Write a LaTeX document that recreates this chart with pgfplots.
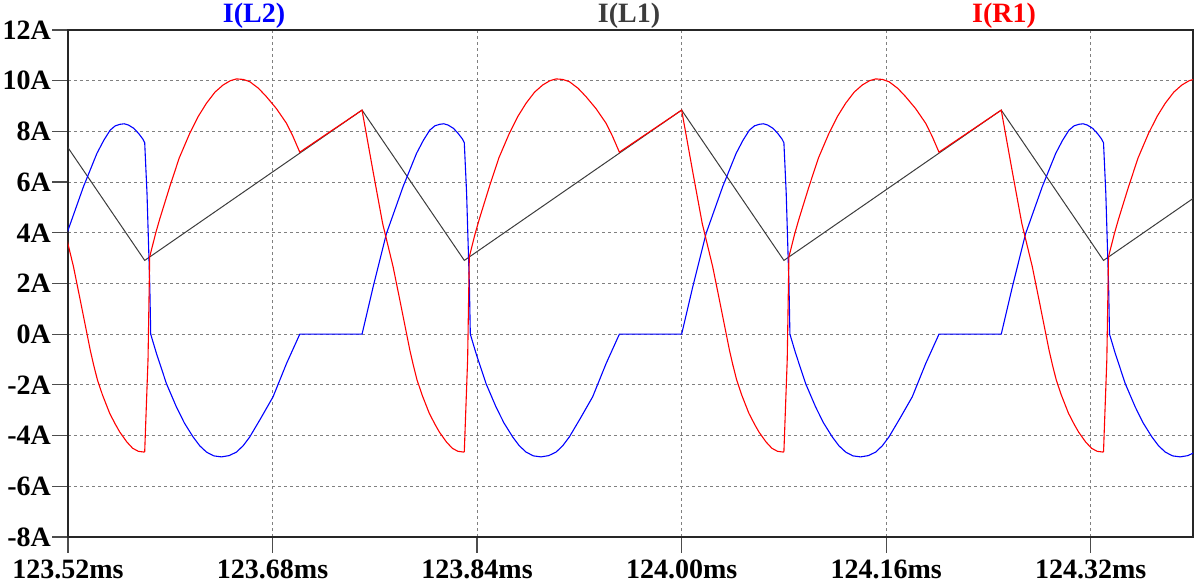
\documentclass[border=0pt]{standalone}
\usepackage{fontspec}
\setmainfont{Liberation Serif}
\usepackage{pgfplots}
\pgfplotsset{compat=1.18}
\definecolor{lgray}{RGB}{60,60,60}
\definecolor{tblue}{RGB}{0,0,255}
\definecolor{tred}{RGB}{255,0,0}
\begin{document}
\begin{tikzpicture}
\begin{axis}[name=ax, scale only axis, width=562.5pt, height=253.5pt,
  xmin=123.52, xmax=124.40, ymin=-8, ymax=12,
  xtick={123.52,123.68,123.84,124.00,124.16,124.32},
  xticklabels={123.52ms,123.68ms,123.84ms,124.00ms,124.16ms,124.32ms},
  ytick={-8,-6,-4,-2,0,2,4,6,8,10,12},
  yticklabels={-8A,-6A,-4A,-2A,0A,2A,4A,6A,8A,10A,12A},
  tick pos=left, tick align=outside, major tick length=8pt,
  grid=major, major grid style={gray, line width=0.5pt, dash pattern=on 1.5pt off 1.5pt},
  axis line style={line width=0.6pt, black!85},
  tick style={line width=0.6pt, black!70},
  ticklabel style={font=\fontsize{14}{16}\selectfont\bfseries},
  yticklabel style={xshift=3pt},
  clip=true,
]
% I(L1)
\addplot[lgray, line width=0.5pt] coordinates {
(123.50,8.84) (123.58,2.91) (123.75,8.84) (123.83,2.91) (124.00,8.84) (124.08,2.91) (124.25,8.84) (124.33,2.91) (124.50,8.84)};
% I(L2)
\addplot[tblue, line width=0.55pt] coordinates {
(123.5000,0.00) (123.5087,1.87) (123.5191,3.97) (123.5321,5.82) (123.5426,7.13) (123.5480,7.65) (123.5530,8.05) (123.5570,8.22) (123.5608,8.28) (123.5640,8.30) (123.5673,8.25) (123.5715,8.12) (123.5752,7.92) (123.5785,7.70) (123.5800,7.55) (123.5818,5.56) (123.5840,1.87) (123.5847,0.00) (123.5892,-0.76) (123.5970,-1.95) (123.6048,-2.87) (123.6110,-3.50) (123.6178,-4.05) (123.6230,-4.40) (123.6283,-4.65) (123.6340,-4.80) (123.6400,-4.84) (123.6460,-4.79) (123.6518,-4.65) (123.6570,-4.40) (123.6622,-4.05) (123.6710,-3.30) (123.6804,-2.47) (123.6909,-1.16) (123.7013,0.00)
(123.7500,0.00) (123.7587,1.87) (123.7691,3.97) (123.7821,5.82) (123.7926,7.13) (123.7980,7.65) (123.8030,8.05) (123.8070,8.22) (123.8108,8.28) (123.8140,8.30) (123.8173,8.25) (123.8215,8.12) (123.8252,7.92) (123.8285,7.70) (123.8300,7.55) (123.8318,5.56) (123.8340,1.87) (123.8347,0.00) (123.8392,-0.76) (123.8470,-1.95) (123.8548,-2.87) (123.8610,-3.50) (123.8678,-4.05) (123.8730,-4.40) (123.8783,-4.65) (123.8840,-4.80) (123.8900,-4.84) (123.8960,-4.79) (123.9018,-4.65) (123.9070,-4.40) (123.9122,-4.05) (123.9210,-3.30) (123.9304,-2.47) (123.9409,-1.16) (123.9513,0.00)
(124.0000,0.00) (124.0087,1.87) (124.0191,3.97) (124.0321,5.82) (124.0426,7.13) (124.0480,7.65) (124.0530,8.05) (124.0570,8.22) (124.0608,8.28) (124.0640,8.30) (124.0673,8.25) (124.0715,8.12) (124.0752,7.92) (124.0785,7.70) (124.0800,7.55) (124.0818,5.56) (124.0840,1.87) (124.0847,0.00) (124.0892,-0.76) (124.0970,-1.95) (124.1048,-2.87) (124.1110,-3.50) (124.1178,-4.05) (124.1230,-4.40) (124.1283,-4.65) (124.1340,-4.80) (124.1400,-4.84) (124.1460,-4.79) (124.1518,-4.65) (124.1570,-4.40) (124.1622,-4.05) (124.1710,-3.30) (124.1804,-2.47) (124.1909,-1.16) (124.2013,0.00)
(124.2500,0.00) (124.2587,1.87) (124.2691,3.97) (124.2821,5.82) (124.2926,7.13) (124.2980,7.65) (124.3030,8.05) (124.3070,8.22) (124.3108,8.28) (124.3140,8.30) (124.3173,8.25) (124.3215,8.12) (124.3252,7.92) (124.3285,7.70) (124.3300,7.55) (124.3318,5.56) (124.3340,1.87) (124.3347,0.00) (124.3392,-0.76) (124.3470,-1.95) (124.3548,-2.87) (124.3610,-3.50) (124.3678,-4.05) (124.3730,-4.40) (124.3783,-4.65) (124.3840,-4.80) (124.3900,-4.84) (124.3960,-4.79) (124.4018,-4.65)};
% I(R1)
\addplot[tred, line width=0.55pt] coordinates {
(123.5000,8.84) (123.5087,6.40) (123.5161,4.37) (123.5243,2.66) (123.5296,1.34) (123.5374,-0.63) (123.5400,-1.20) (123.5430,-1.80) (123.5470,-2.40) (123.5526,-3.12) (123.5570,-3.55) (123.5605,-3.86) (123.5660,-4.25) (123.5706,-4.50) (123.5750,-4.62) (123.5795,-4.65) (123.5800,-4.63) (123.5826,-1.00) (123.5839,3.05) (123.5885,3.97) (123.5918,4.55) (123.5996,5.82) (123.6070,6.95) (123.6152,7.92) (123.6220,8.60) (123.6283,9.11) (123.6350,9.55) (123.6413,9.83) (123.6470,10.00) (123.6518,10.07) (123.6570,10.05) (123.6622,9.96) (123.6690,9.70) (123.6752,9.37) (123.6830,8.90) (123.6909,8.32) (123.6960,7.80) (123.7013,7.18)
(123.7500,8.84) (123.7587,6.40) (123.7661,4.37) (123.7743,2.66) (123.7796,1.34) (123.7874,-0.63) (123.7900,-1.20) (123.7930,-1.80) (123.7970,-2.40) (123.8026,-3.12) (123.8070,-3.55) (123.8105,-3.86) (123.8160,-4.25) (123.8206,-4.50) (123.8250,-4.62) (123.8295,-4.65) (123.8300,-4.63) (123.8326,-1.00) (123.8339,3.05) (123.8385,3.97) (123.8418,4.55) (123.8496,5.82) (123.8570,6.95) (123.8652,7.92) (123.8720,8.60) (123.8783,9.11) (123.8850,9.55) (123.8913,9.83) (123.8970,10.00) (123.9018,10.07) (123.9070,10.05) (123.9122,9.96) (123.9190,9.70) (123.9252,9.37) (123.9330,8.90) (123.9409,8.32) (123.9460,7.80) (123.9513,7.18)
(124.0000,8.84) (124.0087,6.40) (124.0161,4.37) (124.0243,2.66) (124.0296,1.34) (124.0374,-0.63) (124.0400,-1.20) (124.0430,-1.80) (124.0470,-2.40) (124.0526,-3.12) (124.0570,-3.55) (124.0605,-3.86) (124.0660,-4.25) (124.0706,-4.50) (124.0750,-4.62) (124.0795,-4.65) (124.0800,-4.63) (124.0826,-1.00) (124.0839,3.05) (124.0885,3.97) (124.0918,4.55) (124.0996,5.82) (124.1070,6.95) (124.1152,7.92) (124.1220,8.60) (124.1283,9.11) (124.1350,9.55) (124.1413,9.83) (124.1470,10.00) (124.1518,10.07) (124.1570,10.05) (124.1622,9.96) (124.1690,9.70) (124.1752,9.37) (124.1830,8.90) (124.1909,8.32) (124.1960,7.80) (124.2013,7.18)
(124.2500,8.84) (124.2587,6.40) (124.2661,4.37) (124.2743,2.66) (124.2796,1.34) (124.2874,-0.63) (124.2900,-1.20) (124.2930,-1.80) (124.2970,-2.40) (124.3026,-3.12) (124.3070,-3.55) (124.3105,-3.86) (124.3160,-4.25) (124.3206,-4.50) (124.3250,-4.62) (124.3295,-4.65) (124.3300,-4.63) (124.3326,-1.00) (124.3339,3.05) (124.3385,3.97) (124.3418,4.55) (124.3496,5.82) (124.3570,6.95) (124.3652,7.92) (124.3720,8.60) (124.3783,9.11) (124.3850,9.55) (124.3913,9.83) (124.3970,10.00) (124.4018,10.07)};
\end{axis}
\node[anchor=base, text=tblue, font=\fontsize{14}{16}\selectfont\bfseries] at ([xshift=93pt,yshift=3.7pt]ax.north west) {I(L2)};
\node[anchor=base, text=lgray, font=\fontsize{14}{16}\selectfont\bfseries] at ([xshift=280.5pt,yshift=3.7pt]ax.north west) {I(L1)};
\node[anchor=base, text=tred, font=\fontsize{14}{16}\selectfont\bfseries] at ([xshift=468pt,yshift=3.7pt]ax.north west) {I(R1)};
\pgfresetboundingbox
\path[use as bounding box] ([xshift=-34pt,yshift=-24.5pt]ax.south west) rectangle ([xshift=0.5pt,yshift=15pt]ax.north east);
\end{tikzpicture}
\end{document}
